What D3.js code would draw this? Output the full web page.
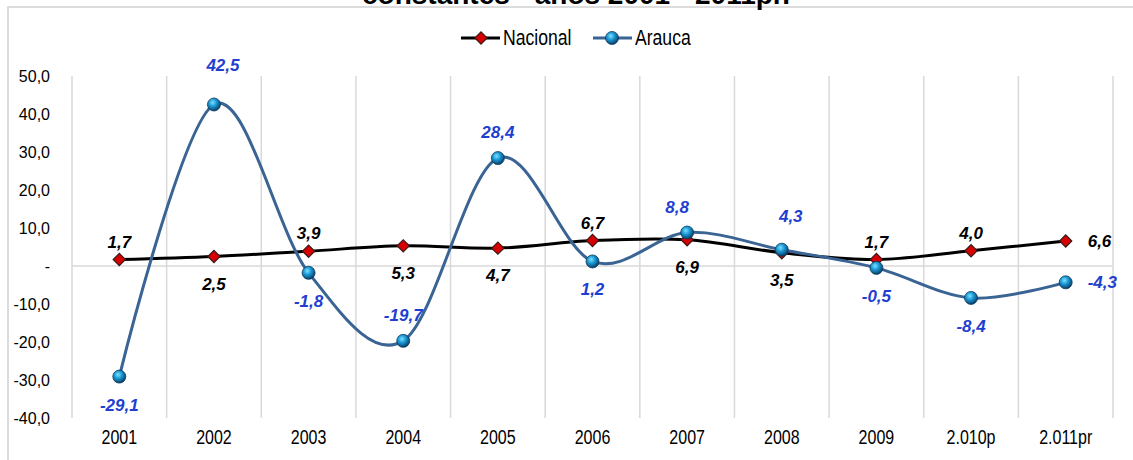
<!DOCTYPE html>
<html>
<head>
<meta charset="utf-8">
<script src="https://cdn.jsdelivr.net/npm/d3@7"></script>
<style>
  body { margin: 0; background: #fff; }
  svg { display: block; }
</style>
</head>
<body>
<div id="chart"></div>
<script>
// data
var years = ['2001', '2002', '2003', '2004', '2005', '2006', '2007', '2008', '2009', '2.010p', '2.011pr'];
var nacional = [1.7, 2.5, 3.9, 5.3, 4.7, 6.7, 6.9, 3.5, 1.7, 4.0, 6.6];
var arauca = [-29.1, 42.5, -1.8, -19.7, 28.4, 1.2, 8.8, 4.3, -0.5, -8.4, -4.3];
var yTicks = [50, 40, 30, 20, 10, 0, -10, -20, -30, -40];
// where each value label sits: a = above, b = below, r = right
var nacionalPos = ['a', 'b', 'a', 'b', 'b', 'a', 'b', 'b', 'a', 'a', 'r'];
var araucaPos = ['b', 'a', 'b', 'a', 'a', 'b', 'a', 'a', 'b', 'b', 'r'];
// small hand nudges of the blue labels, as in the source [dx, dy]
var araucaNudge = [[0, 0], [9, -14], [0, 0], [0, 0], [0, 0], [0, 0], [-10, 0], [9, -8], [0, 0], [0, 0], [0, 0]];

var width = 1133;
var height = 460;
var margin = {left: 72, right: 20, top: 76, bottom: 42};

var locale = d3.formatLocale({decimal: ',', thousands: '.', grouping: [3], currency: ['$', ''], minus: '-'});
var fmt = locale.format('.1f');

var svg = d3.select('#chart')
	.append('svg')
	.attr('width', width)
	.attr('height', height);

var defs = svg.append('defs');
var grad = defs.append('radialGradient')
	.attr('id', 'ball')
	.attr('cx', '40%').attr('cy', '35%').attr('r', '65%');
grad.append('stop').attr('offset', '0%').attr('stop-color', '#7fe0ff');
grad.append('stop').attr('offset', '45%').attr('stop-color', '#1a9ad6');
grad.append('stop').attr('offset', '100%').attr('stop-color', '#0a3d66');

// outer frame (clipped chart)
svg.append('path')
	.attr('d', 'M8,460 L8,7 L1133,7')
	.attr('fill', 'none')
	.attr('stroke', '#dcdcdc')
	.attr('stroke-width', 2);

// title, cut off at the top like the source image
svg.append('text')
	.attr('x', 576)
	.attr('y', 4)
	.attr('text-anchor', 'middle')
	.style('font-family', 'Liberation Sans, Arial, sans-serif')
	.style('font-weight', 'bold')
	.style('font-size', '28px')
	.text('constantes - años 2001 - 2011pr.');

var x = d3.scaleBand()
	.domain(years)
	.range([margin.left, width - margin.right]);

var y = d3.scaleLinear()
	.domain([-40, 50])
	.range([height - margin.bottom, margin.top]);

// vertical gridlines at band edges
var edges = years.map((d) => x(d)).concat([x(years[years.length - 1]) + x.bandwidth()]);
svg.append('g')
	.selectAll('line')
	.data(edges)
	.enter()
	.append('line')
	.attr('x1', (d) => d).attr('x2', (d) => d)
	.attr('y1', y(50)).attr('y2', y(-40))
	.attr('stroke', '#d9d9d9')
	.attr('stroke-width', 1.5);

// zero line
svg.append('line')
	.attr('x1', margin.left).attr('x2', width - margin.right)
	.attr('y1', y(0)).attr('y2', y(0))
	.attr('stroke', '#d9d9d9')
	.attr('stroke-width', 1.5);

// y axis labels
var yAxis = d3.axisLeft(y)
	.tickValues(yTicks)
	.tickSize(0)
	.tickPadding(22)
	.tickFormat((d) => d === 0 ? '-' : fmt(d));
var gy = svg.append('g')
	.attr('transform', 'translate(' + margin.left + ',0)')
	.call(yAxis);
gy.select('.domain').remove();
gy.selectAll('text')
	.style('font-family', 'Liberation Sans, Arial, sans-serif')
	.style('font-size', '16px')
	.attr('fill', '#000');

// x axis labels (narrow face)
var xAxis = d3.axisBottom(x).tickSize(0).tickPadding(12);
var gx = svg.append('g')
	.attr('transform', 'translate(0,' + y(-40) + ')')
	.call(xAxis);
gx.select('.domain').remove();
gx.selectAll('text')
	.style('font-family', 'Liberation Sans, Arial, sans-serif')
	.style('font-size', '20px')
	.attr('transform', 'scale(0.8,1)')
	.attr('fill', '#000');

var cx = (d, i) => x(years[i]) + x.bandwidth() / 2;

var line = d3.line()
	.x(cx)
	.y((d) => y(d))
	.curve(d3.curveCardinal.tension(0));

svg.append('path')
	.datum(nacional)
	.attr('d', line)
	.attr('fill', 'none')
	.attr('stroke', '#000')
	.attr('stroke-width', 3);

svg.append('path')
	.datum(arauca)
	.attr('d', line)
	.attr('fill', 'none')
	.attr('stroke', '#3a6494')
	.attr('stroke-width', 3);

var diamond = d3.symbol().type(d3.symbolSquare).size(75);

svg.append('g')
	.selectAll('path')
	.data(nacional)
	.enter()
	.append('path')
	.attr('d', diamond)
	.attr('transform', (d, i) => 'translate(' + cx(d, i) + ',' + y(d) + ') rotate(45)')
	.attr('fill', '#d60000')
	.attr('stroke', '#3a1a1a')
	.attr('stroke-width', 1.2);

svg.append('g')
	.selectAll('circle')
	.data(arauca)
	.enter()
	.append('circle')
	.attr('cx', cx)
	.attr('cy', (d) => y(d))
	.attr('r', 6.5)
	.attr('fill', 'url(#ball)')
	.attr('stroke', '#0b3a5e')
	.attr('stroke-width', 0.8);

function labels(values, pos, nudge, color, up, down) {
	svg.append('g')
		.selectAll('text')
		.data(values)
		.enter()
		.append('text')
		.attr('x', (d, i) => (pos[i] === 'r' ? cx(d, i) + 22 : cx(d, i)) + (nudge ? nudge[i][0] : 0))
		.attr('y', (d, i) => {
			var dy = nudge ? nudge[i][1] : 0;
			if (pos[i] === 'a') return y(d) - up + dy;
			if (pos[i] === 'b') return y(d) + down + dy;
			return y(d) + 6 + dy;
		})
		.attr('text-anchor', (d, i) => pos[i] === 'r' ? 'start' : 'middle')
		.style('font-family', 'Liberation Sans, Arial, sans-serif')
		.style('font-weight', 'bold')
		.style('font-style', 'italic')
		.style('font-size', '17px')
		.attr('fill', color)
		.text(fmt);
}

labels(nacional, nacionalPos, null, '#000', 12, 33);
labels(arauca, araucaPos, araucaNudge, '#1f3fd0', 20, 34);

// legend
var lg = svg.append('g').attr('transform', 'translate(0,38)');
lg.append('line').attr('x1', 461).attr('x2', 500).attr('stroke', '#000').attr('stroke-width', 3);
lg.append('path').attr('d', diamond).attr('transform', 'translate(481,0) rotate(45)')
	.attr('fill', '#d60000').attr('stroke', '#3a1a1a').attr('stroke-width', 1.2);
lg.append('text').attr('transform', 'translate(503,7) scale(0.8,1)').text('Nacional');
lg.append('line').attr('x1', 593).attr('x2', 632).attr('stroke', '#3a6494').attr('stroke-width', 3);
lg.append('circle').attr('cx', 612).attr('r', 6.5).attr('fill', 'url(#ball)')
	.attr('stroke', '#0b3a5e').attr('stroke-width', 0.8);
lg.append('text').attr('transform', 'translate(635,7) scale(0.8,1)').text('Arauca');
lg.selectAll('text')
	.style('font-family', 'Liberation Sans, Arial, sans-serif')
	.style('font-size', '22px')
	.attr('fill', '#000');
</script>
</body>
</html>
